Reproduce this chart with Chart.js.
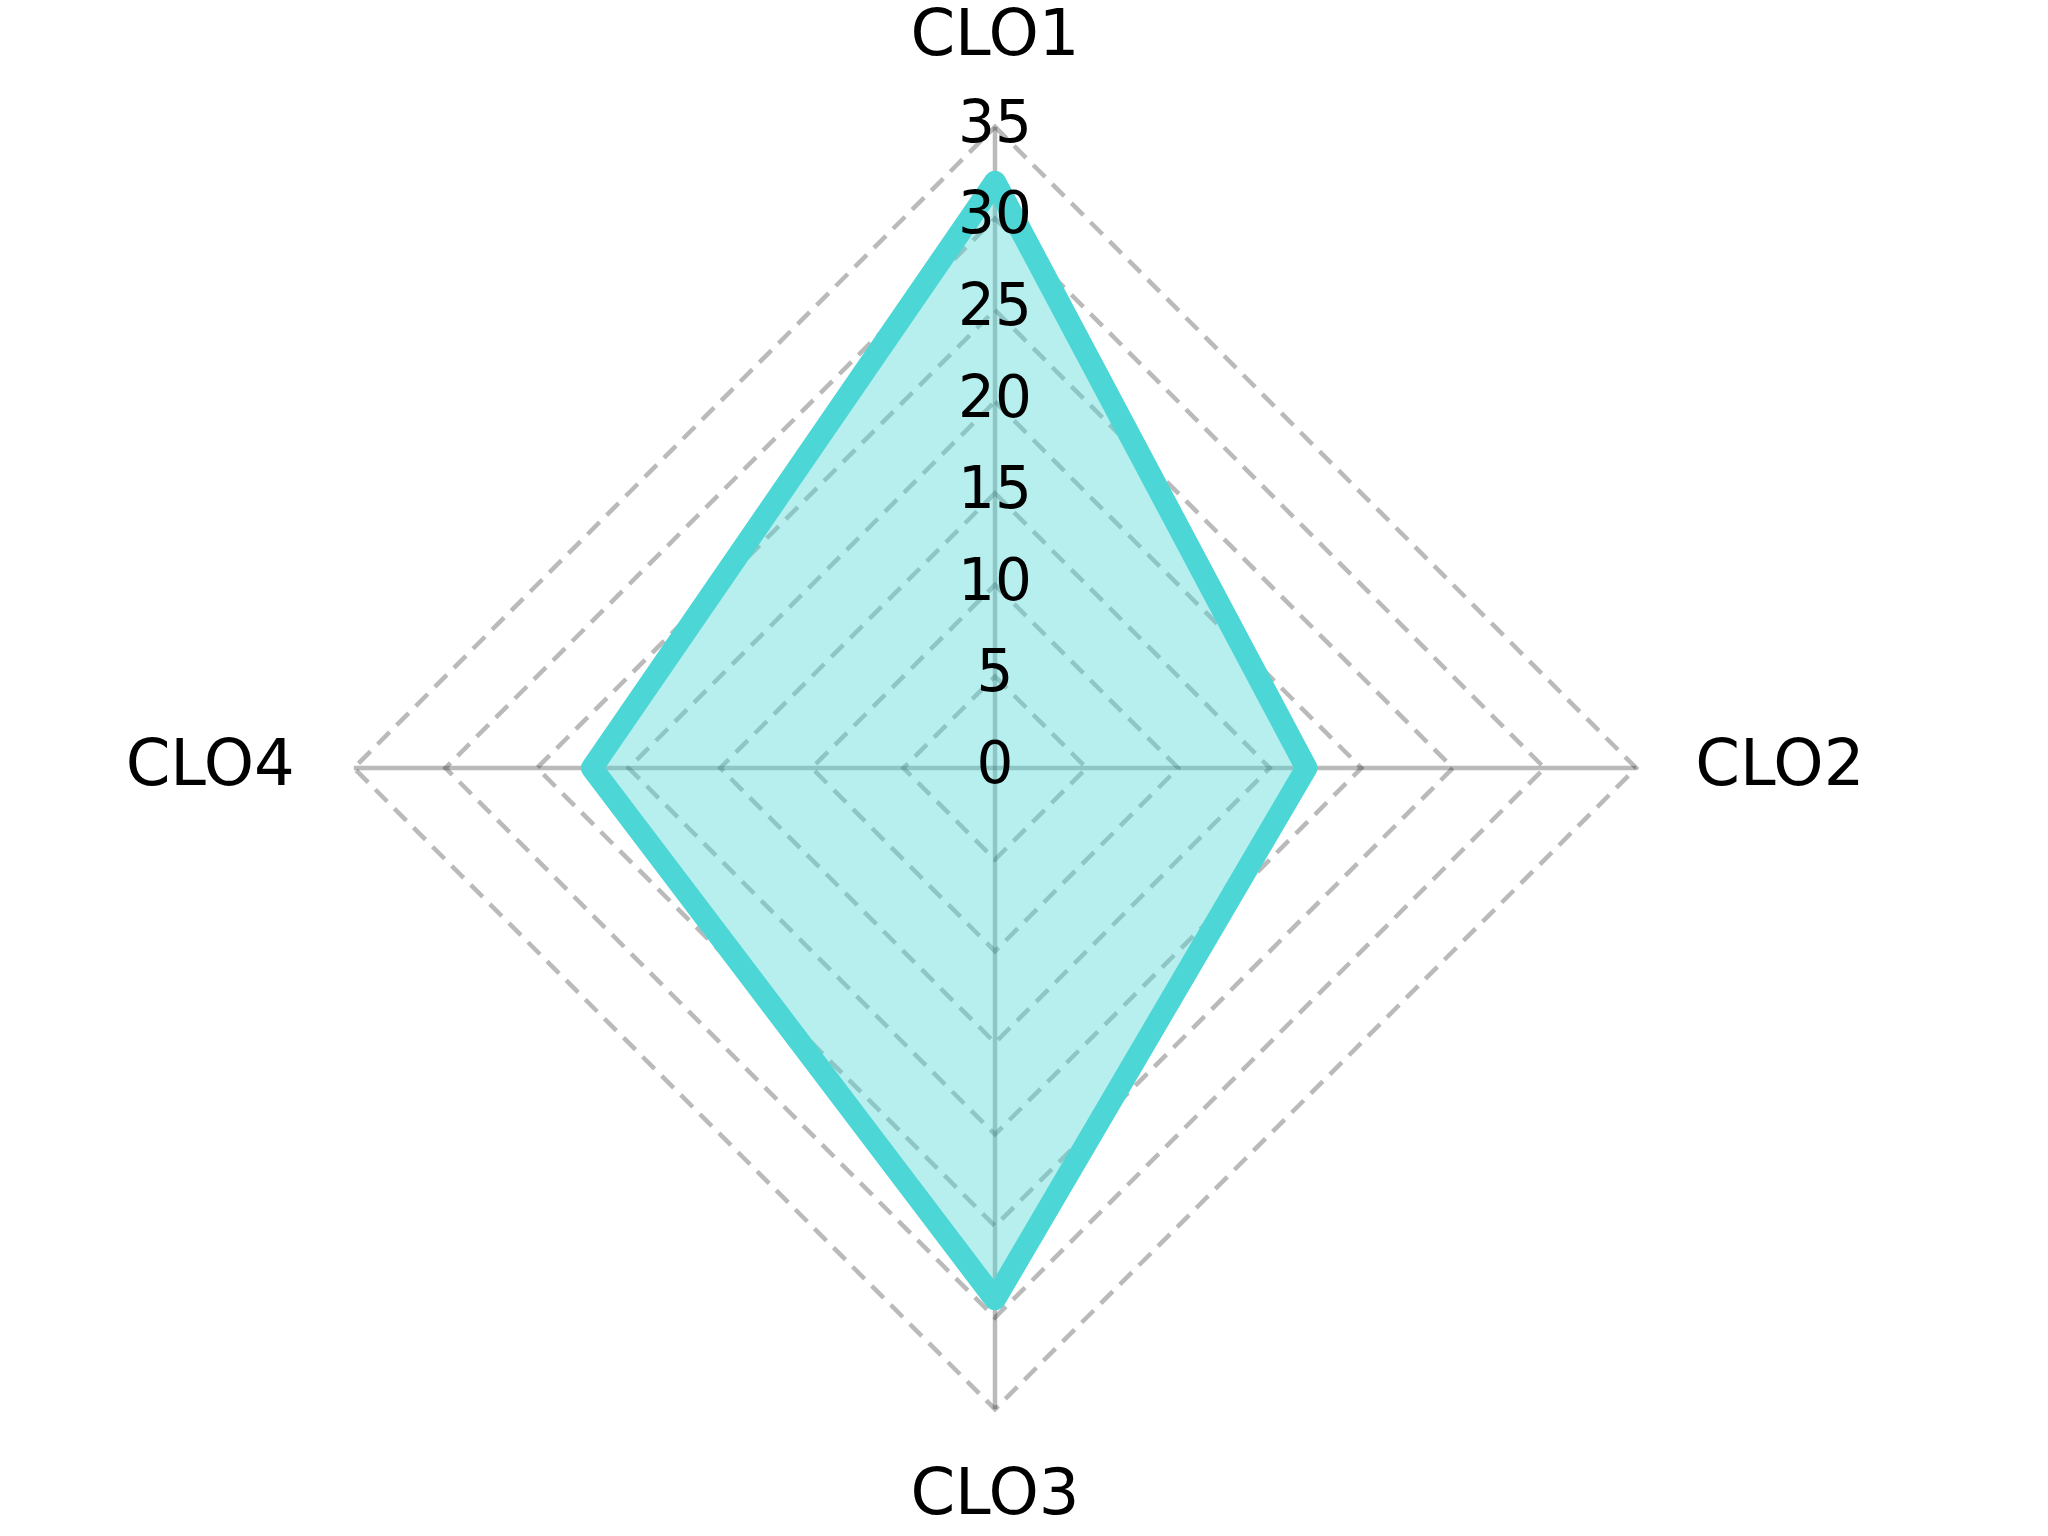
<!DOCTYPE html>
<html>
<head>
<meta charset="utf-8">
<script src="https://cdn.jsdelivr.net/npm/chart.js@4"></script>
<style>
  html, body { margin: 0; padding: 0; background: #ffffff; }
  #wrap { width: 2048px; height: 1536px; position: relative; }
</style>
</head>
<body>
<div id="wrap"><canvas id="radarChart"></canvas></div>
<script>
// data
const categories = ["CLO1", "CLO2", "CLO3", "CLO4"];
const scores = [32, 17, 29, 22];
const tickMin = 0;
const tickMax = 35;
const tickStep = 5;

const teal = "rgb(76, 214, 214)";
const tealFill = "rgba(76, 214, 214, 0.4)";
const gridGray = "rgba(0, 0, 0, 0.27)";
const tickFont = { family: "'DejaVu Sans', sans-serif", size: 58 };

// Chart.js hides the first radial tick ("0"); draw it at the scale centre
const zeroTickPlugin = {
    id: "zeroTick",
    afterDatasetsDraw(chart) {
        const r = chart.scales.r;
        if (!r || !r.ticks.length) return;
        const c = chart.ctx;
        c.save();
        c.font = Chart.helpers.toFont(tickFont).string;
        c.fillStyle = "#000000";
        c.textAlign = "center";
        c.textBaseline = "middle";
        c.fillText(r.ticks[0].label, r.xCenter, r.yCenter);
        c.restore();
    },
};

document.addEventListener("DOMContentLoaded", () => {
    const ctx = document.getElementById("radarChart").getContext("2d");

    new Chart(ctx, {
        type: "radar",
        data: {
            labels: categories,
            datasets: [
                {
                    label: "Score",
                    data: scores,
                    borderColor: teal,
                    backgroundColor: tealFill,
                    borderWidth: 22,
                    borderJoinStyle: "round",
                    pointRadius: 0,
                    pointHoverRadius: 0,
                    fill: true,
                },
            ],
        },
        options: {
            responsive: true,
            maintainAspectRatio: false,
            animation: false,
            devicePixelRatio: 1,
            layout: {
                padding: { right: 58 },
            },
            plugins: {
                legend: { display: false },
                tooltip: { enabled: false },
            },
            scales: {
                r: {
                    min: tickMin,
                    max: tickMax,
                    beginAtZero: true,
                    angleLines: {
                        display: true,
                        color: gridGray,
                        lineWidth: 4.5,
                    },
                    grid: {
                        circular: false,
                        color: gridGray,
                        lineWidth: 4.5,
                    },
                    border: {
                        dash: [17, 10],
                    },
                    pointLabels: {
                        color: "#000000",
                        // side labels sit a little further out than top/bottom
                        padding: (c) => (c.index % 2 === 1 ? 28 : 19),
                        font: { family: "'DejaVu Sans', sans-serif", size: 64 },
                    },
                    ticks: {
                        stepSize: tickStep,
                        color: "#000000",
                        showLabelBackdrop: false,
                        z: 1,
                        font: tickFont,
                    },
                },
            },
        },
        plugins: [zeroTickPlugin],
    });
});
</script>
</body>
</html>
